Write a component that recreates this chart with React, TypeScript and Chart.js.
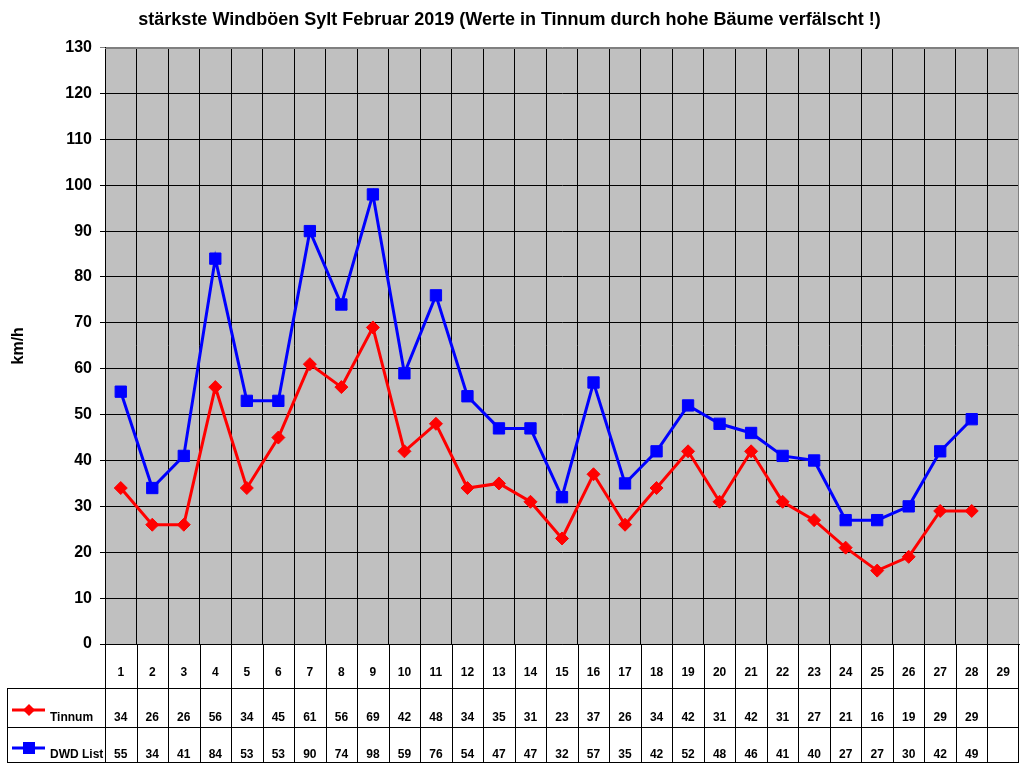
import { useEffect, useRef } from "react";
import { Chart, registerables } from "chart.js";

Chart.register(...registerables);

const days = [
  "1", "2", "3", "4", "5", "6", "7", "8", "9", "10", "11", "12", "13", "14", "15",
  "16", "17", "18", "19", "20", "21", "22", "23", "24", "25", "26", "27", "28", "29",
];
const tinnum = [34, 26, 26, 56, 34, 45, 61, 56, 69, 42, 48, 34, 35, 31, 23, 37, 26, 34, 42, 31, 42, 31, 27, 21, 16, 19, 29, 29];
const dwdList = [55, 34, 41, 84, 53, 53, 90, 74, 98, 59, 76, 54, 47, 47, 32, 57, 35, 42, 52, 48, 46, 41, 40, 27, 27, 30, 42, 49];
const seriesNames = ["Tinnum", "DWD List"];

const FONT = "'Liberation Sans', Arial, sans-serif";

const tablePlugin = {
  id: "dataTable",
  beforeDraw(chart: any) {
    const { ctx, chartArea: a } = chart;
    ctx.save();
    ctx.fillStyle = "#C0C0C0";
    ctx.fillRect(a.left, a.top, a.right - a.left, a.bottom - a.top);
    ctx.restore();
  },
  afterDraw(chart: any) {
    const { ctx, chartArea: a } = chart;
    const xs = chart.scales.x;
    const w = (a.right - a.left) / days.length;
    const top = Math.round(a.bottom);
    const r1 = top + 44;
    const r2 = top + 83;
    const r3 = top + 118;
    const leftEdge = 7;
    ctx.save();

    // gray outer border on top and right of the plot area
    ctx.strokeStyle = "#808080";
    ctx.lineWidth = 1;
    ctx.beginPath();
    ctx.moveTo(a.left, Math.round(a.top) + 0.5);
    ctx.lineTo(a.right, Math.round(a.top) + 0.5);
    ctx.moveTo(Math.round(a.right) - 0.5, a.top);
    ctx.lineTo(Math.round(a.right) - 0.5, a.bottom);
    ctx.stroke();

    ctx.strokeStyle = "#000";
    ctx.beginPath();
    for (let i = 0; i <= days.length; i++) {
      const x = i === days.length ? Math.round(a.right) - 0.5 : Math.round(a.left + i * w) + 0.5;
      ctx.moveTo(x, top);
      ctx.lineTo(x, r3);
    }
    ctx.moveTo(leftEdge + 0.5, r1);
    ctx.lineTo(leftEdge + 0.5, r3);
    [r1, r2, r3].forEach((y) => {
      ctx.moveTo(leftEdge, y + 0.5);
      ctx.lineTo(a.right, y + 0.5);
    });
    ctx.stroke();

    ctx.fillStyle = "#000";
    ctx.font = `bold 12px ${FONT}`;
    ctx.textAlign = "center";
    ctx.textBaseline = "middle";
    days.forEach((d, i) => {
      const x = xs.getPixelForValue(i);
      ctx.fillText(d, x, top + 29);
      if (i < tinnum.length) ctx.fillText(String(tinnum[i]), x, r1 + 30);
      if (i < dwdList.length) ctx.fillText(String(dwdList[i]), x, r2 + 28);
    });

    // legend keys
    ctx.textAlign = "left";
    ctx.fillText(seriesNames[0], 50, r1 + 30);
    ctx.fillText(seriesNames[1], 50, r2 + 28);

    ctx.lineWidth = 3;
    ctx.strokeStyle = "#FF0000";
    ctx.beginPath();
    ctx.moveTo(12, r1 + 22);
    ctx.lineTo(45, r1 + 22);
    ctx.stroke();
    ctx.fillStyle = "#FF0000";
    ctx.beginPath();
    ctx.moveTo(29, r1 + 16);
    ctx.lineTo(35, r1 + 22);
    ctx.lineTo(29, r1 + 28);
    ctx.lineTo(23, r1 + 22);
    ctx.closePath();
    ctx.fill();

    ctx.strokeStyle = "#0000FF";
    ctx.beginPath();
    ctx.moveTo(12, r2 + 21);
    ctx.lineTo(45, r2 + 21);
    ctx.stroke();
    ctx.fillStyle = "#0000FF";
    ctx.fillRect(23, r2 + 15, 12, 12);
    ctx.restore();
  },
};

export default function App() {
  const canvasRef = useRef<HTMLCanvasElement>(null);
  const chartInstance = useRef<Chart | null>(null);

  useEffect(() => {
    if (!canvasRef.current) return;
    if (chartInstance.current) chartInstance.current.destroy();
    const ctx = canvasRef.current.getContext("2d");
    if (!ctx) return;

    chartInstance.current = new Chart(ctx, {
      type: "line",
      data: {
        labels: days,
        datasets: [
          {
            label: seriesNames[0],
            data: tinnum,
            borderColor: "#FF0000",
            backgroundColor: "#FF0000",
            borderWidth: 3,
            pointStyle: "rectRot",
            pointRadius: 6.5,
            pointBorderWidth: 1,
          },
          {
            label: seriesNames[1],
            data: dwdList,
            borderColor: "#0000FF",
            backgroundColor: "#0000FF",
            borderWidth: 3,
            pointStyle: "rect",
            pointRadius: 8,
            pointBorderWidth: 1,
          },
        ],
      },
      options: {
        responsive: false,
        animation: false,
        layout: { autoPadding: false, padding: { left: 0, right: 5, top: 0, bottom: 0 } },
        plugins: {
          legend: { display: false },
          tooltip: { enabled: false },
          title: {
            display: true,
            text: "stärkste Windböen Sylt Februar 2019 (Werte in Tinnum durch hohe Bäume verfälscht !)",
            color: "#000",
            font: { family: FONT, size: 18, weight: "bold" },
            padding: { top: 9, bottom: 17 },
          },
        },
        scales: {
          x: {
            offset: true,
            grid: {
              offset: true,
              color: "#000",
              lineWidth: 1,
              drawTicks: false,
            },
            border: { display: true, color: "#000" },
            ticks: { display: false },
            afterFit: (s: any) => {
              s.height = 124;
            },
          },
          y: {
            min: 0,
            max: 130,
            ticks: {
              stepSize: 10,
              color: "#000",
              padding: 8,
              font: { family: FONT, size: 16, weight: "bold" },
            },
            grid: {
              color: (c: any) => (c.tick && c.tick.value === 130 ? "#808080" : "#000"),
              lineWidth: 1,
              drawTicks: true,
              tickLength: 5,
            },
            border: { display: true, color: "#000" },
            title: {
              display: true,
              text: "km/h",
              color: "#000",
              font: { family: FONT, size: 16, weight: "bold" },
              padding: { top: 9, bottom: 0 },
            },
            afterFit: (s: any) => {
              s.width = 105;
            },
          },
        },
      },
      plugins: [tablePlugin],
    });

    return () => {
      if (chartInstance.current) {
        chartInstance.current.destroy();
        chartInstance.current = null;
      }
    };
  }, []);

  return (
    <div style={{ position: "absolute", left: 0, top: 0, width: 1024, height: 768, background: "#fff" }}>
      <canvas ref={canvasRef} width={1024} height={768} />
    </div>
  );
}
